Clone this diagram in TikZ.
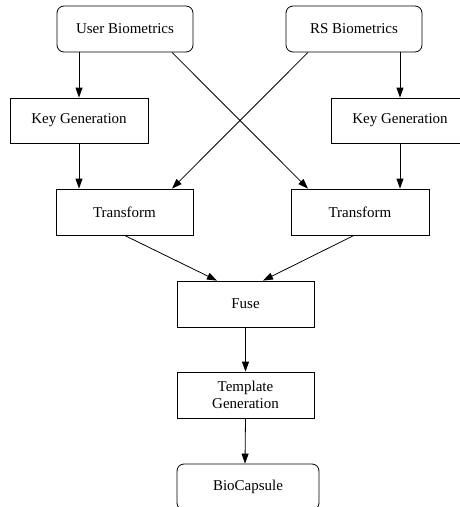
\documentclass[tikz,border=0pt]{standalone}
\usepackage{fontspec}
\setmainfont{Liberation Serif}
\usetikzlibrary{arrows.meta}
\begin{document}
\begin{tikzpicture}[x=1pt,y=-1pt,
  box/.style={draw,line width=0.8pt,inner sep=0pt,font=\fontsize{15}{17}\selectfont,align=center},
  rbox/.style={box,rounded corners=7pt},
  arr/.style={line width=0.8pt,-{Triangle[length=10pt,width=7pt]}}]
\useasboundingbox (0,0) rectangle (459,507);
\node[rbox,minimum width=136pt,minimum height=46pt] (user) at (125,29) {User Biometrics};
\node[rbox,minimum width=136pt,minimum height=46pt] (rs) at (354,29) {RS Biometrics};
\node[box,minimum width=138pt,minimum height=45pt] (kgl) at (79,120.5) {Key Generation};
\node[box,minimum width=138pt,minimum height=45pt] (kgr) at (400,120.5) {Key Generation};
\node[box,minimum width=137pt,minimum height=46pt] (trl) at (124.5,212) {Transform};
\node[box,minimum width=138pt,minimum height=46pt] (trr) at (360,212) {Transform};
\node[box,minimum width=137pt,minimum height=46pt] (fuse) at (245.5,304) {Fuse};
\node[box,minimum width=137pt,minimum height=46pt] (tpl) at (245.5,395) {Template\\Generation};
\node[rbox,minimum width=142pt,minimum height=46pt] (bio) at (248,487) {BioCapsule};
\draw[arr] ([xshift=-46pt]user.south) -- (kgl);
\draw[arr] (kgl) -- ([xshift=-45.5pt]trl.north);
\draw[arr] ([xshift=46pt]rs.south) -- (kgr);
\draw[arr] (kgr) -- ([xshift=40pt]trr.north);
\draw[arr] ([xshift=47pt]user.south) -- ([xshift=-52pt]trr.north);
\draw[arr] ([xshift=-46pt]rs.south) -- ([xshift=47.5pt]trl.north);
\draw[arr] (trl.south) -- ([xshift=-28.5pt]fuse.north);
\draw[arr] ([xshift=-6pt]trr.south) -- ([xshift=17.5pt]fuse.north);
\draw[arr] (fuse) -- (tpl);
\draw[arr] (tpl.south) -- ([xshift=-3pt]bio.north);
\end{tikzpicture}
\end{document}
